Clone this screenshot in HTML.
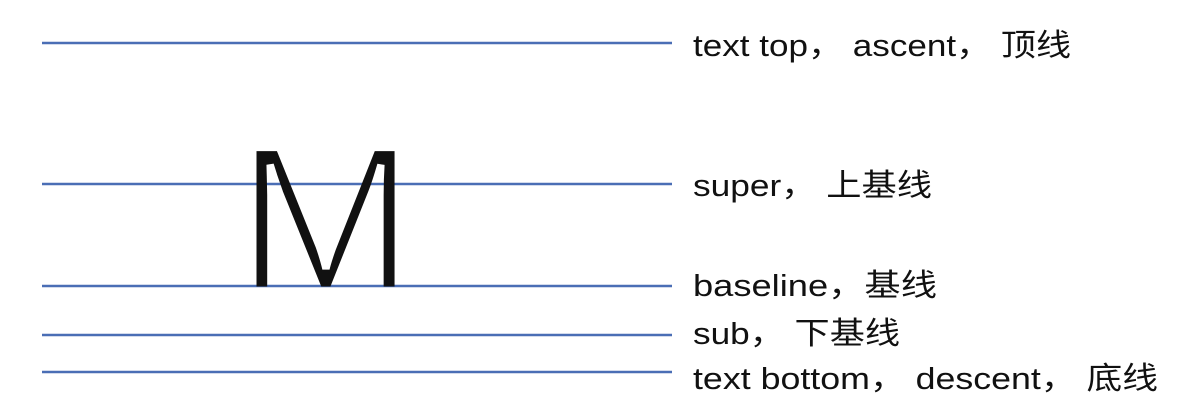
<!DOCTYPE html>
<html><head><meta charset="utf-8"><style>
html,body{margin:0;padding:0;background:#fff;width:1199px;height:417px;overflow:hidden}
svg{display:block}
text{font-family:"Liberation Sans","Noto Sans CJK SC",sans-serif;fill:#111}
</style></head><body>
<svg width="1199" height="417" viewBox="0 0 1199 417">
<defs>
<mask id="m" maskUnits="userSpaceOnUse" x="-300" y="-300" width="1500" height="800">
<text x="0" y="0" font-size="207" style="fill:#fff" stroke="#000" stroke-width="7">M</text>
</mask>
</defs>
<g stroke="#4a6eb5" stroke-width="2.5">
<line x1="42" y1="43" x2="672" y2="43"/>
<line x1="42" y1="184" x2="672" y2="184"/>
<line x1="42" y1="286" x2="672" y2="286"/>
<line x1="42" y1="335" x2="672" y2="335"/>
<line x1="42" y1="372" x2="672" y2="372"/>
</g>
<g transform="translate(235,290) scale(1.05,1)">
<text x="0" y="0" font-size="207" mask="url(#m)" style="fill:#111">M</text>
</g>
<g font-size="31">
<text x="693" y="56" textLength="378" lengthAdjust="spacingAndGlyphs">text top， ascent， 顶线</text>
<text x="693" y="196" textLength="239" lengthAdjust="spacingAndGlyphs">super， 上基线</text>
<text x="693" y="296" textLength="244" lengthAdjust="spacingAndGlyphs">baseline，基线</text>
<text x="693" y="344" textLength="207" lengthAdjust="spacingAndGlyphs">sub， 下基线</text>
<text x="693" y="389" textLength="465" lengthAdjust="spacingAndGlyphs">text bottom， descent， 底线</text>
</g>
</svg>
</body></html>
